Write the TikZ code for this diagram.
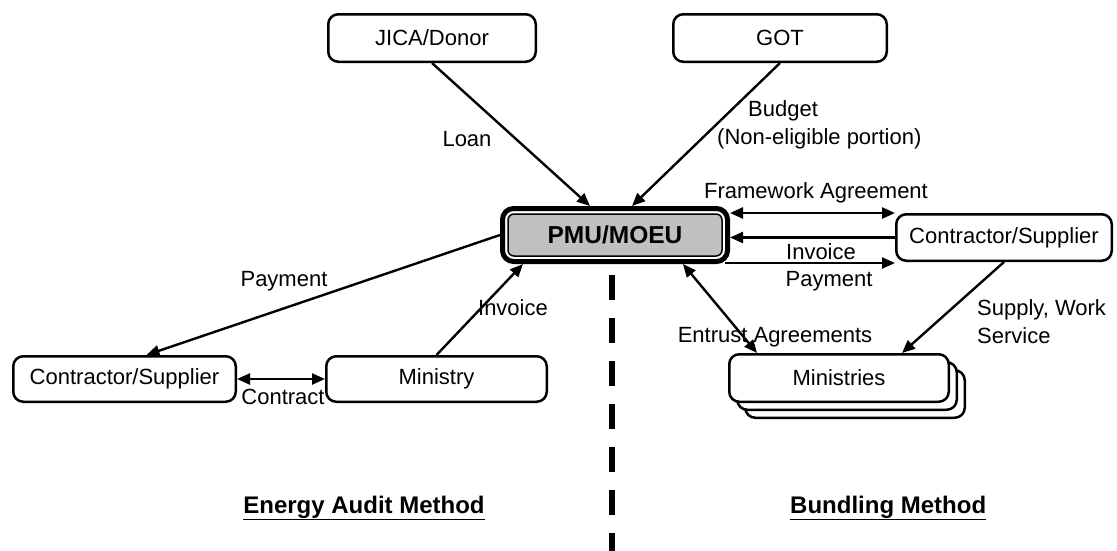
\documentclass[tikz,border=0pt]{standalone}
\usepackage{fontspec}
\setmainfont{Liberation Sans}
\usetikzlibrary{arrows.meta,calc}
\definecolor{pmugray}{HTML}{C0C0C0}
\begin{document}
\begin{tikzpicture}[x=1pt,y=-1pt,
  every node/.style={font=\fontsize{22}{28}\selectfont, inner sep=0pt},
  box/.style={draw, line width=2.5pt, rounded corners=10pt, fill=white, align=center},
  lbl/.style={align=center},
  arr/.style={line width=2.4pt, -{Triangle[length=13pt,width=11pt]}},
  dblarr/.style={line width=2.4pt, {Triangle[length=13pt,width=11pt]}-{Triangle[length=13pt,width=11pt]}},
  headline/.style={font=\fontsize{24}{28}\selectfont\bfseries}
]
\useasboundingbox (0,0) rectangle (1117,550);

% boxes
\node[box, minimum width=207.5pt, minimum height=47.5pt] (jica) at (432,38) {JICA/Donor};
\node[box, minimum width=213.5pt, minimum height=47.5pt] (got) at (780,38) {GOT};
\node[draw, line width=5pt, rounded corners=11pt, fill=white, minimum width=225pt, minimum height=53pt] (pmu) at (615,235) {};
\node[draw, line width=1.5pt, rounded corners=6pt, fill=pmugray, minimum width=214pt, minimum height=42pt,
      font=\fontsize{24.5}{28}\selectfont\bfseries] (pmuin) at (pmu.center) {PMU/MOEU};
\node[box, minimum width=215.5pt, minimum height=46.5pt] (cr) at (1004,237.5) {Contractor/Supplier};
\node[box, minimum width=222.5pt, minimum height=45.5pt] (cl) at (124.5,379) {Contractor/Supplier};
\node[box, minimum width=220.5pt, minimum height=45.5pt] (min) at (436.5,379) {Ministry};
\node[box, minimum width=219.5pt, minimum height=47.5pt] (mins3) at (855,394) {};
\node[box, minimum width=219.5pt, minimum height=47.5pt] (mins2) at (847,386) {};
\node[box, minimum width=219.5pt, minimum height=47.5pt] (mins) at (839,378) {Ministries};

% dashed divider
\coordinate (dtop) at (612,275);
\coordinate (dbot) at (612,552);
\draw[line width=6.5pt, dash pattern=on 25pt off 18pt] (dtop) -- (dbot);

% connectors
\draw[arr] (jica.south) -- ([xshift=-25pt]pmu.north);
\draw[arr] (got.south) -- ([xshift=17pt]pmu.north);
\draw[dblarr] (pmu.east |- cr.north) -- (cr.north west);
\draw[arr] (cr.west) -- (cr.west -| pmu.east);
\draw[arr] ([xshift=-5pt,yshift=1pt]pmu.south east) -- ([yshift=-1pt]cr.south west);
\draw[dblarr] ([xshift=68pt]pmu.south) -- ([xshift=-82pt]mins.north);
\draw[arr] (cr.south) -- ([xshift=63pt]mins.north);
\draw[arr] (pmu.west) -- ([xshift=22pt]cl.north);
\draw[arr] (min.north) -- ([xshift=-92pt]pmu.south);
\draw[dblarr] (cl.east) -- (min.west);

% labels
\node[lbl] (loanlbl) at (467,139) {Loan};
\node[align=left, anchor=west] (budgetlbl) at (717,125) {\hspace*{31pt}Budget\\(Non-eligible portion)};
\node[lbl] (fwlbl) at (816,193) {Framework Agreement};
\node[lbl] (invr) at (821,252) {Invoice};
\node[lbl] (payr) at (829,281) {Payment};
\node[align=left, anchor=west] (supplylbl) at (977,322) {Supply, Work\\Service};
\node[lbl] (entrustlbl) at (775,337) {Entrust Agreements};
\node[lbl] (payl) at (284,281) {Payment};
\node[lbl] (invl) at (513,308) {Invoice};
\node[lbl] (contractlbl) at (283,397) {Contract};
\node[headline] (eam) at (364,508) {\underline{Energy Audit Method}};
\node[headline, anchor=west] (bm) at (790,508) {\underline{Bundling Method}};
\end{tikzpicture}
\end{document}
